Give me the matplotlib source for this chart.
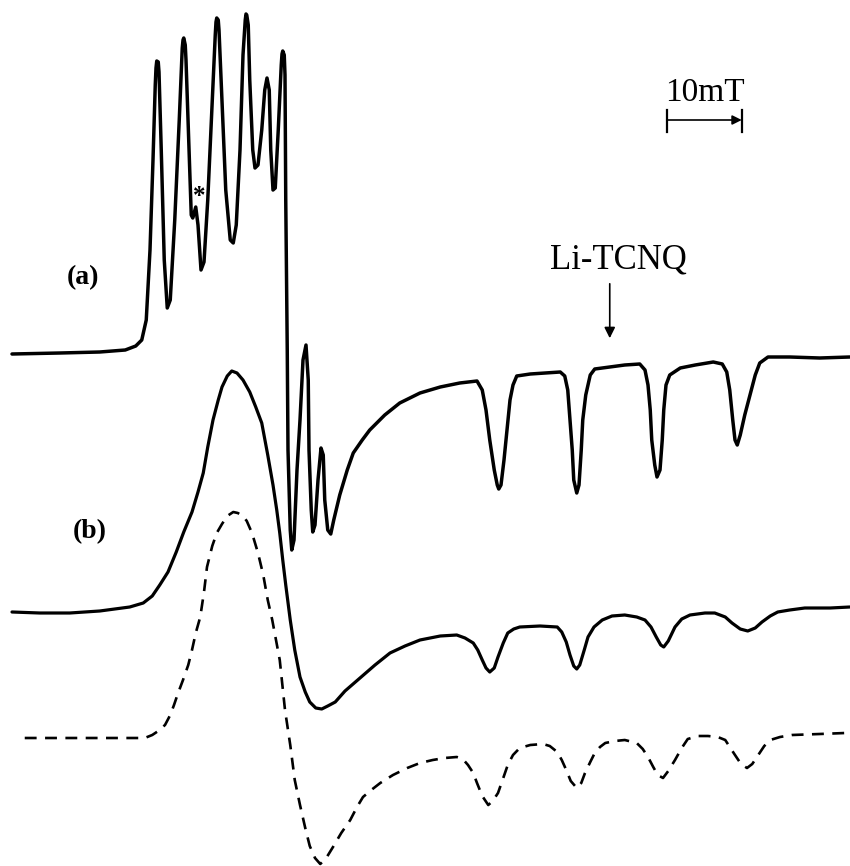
import matplotlib.pyplot as plt

# ESR spectra, magnetic field in mT, signal in arbitrary units

# (a) spectrum
field_a = [1.6, 8.0, 13.3, 16.7, 18.1, 18.9, 19.5, 20.0, 20.4, 20.7, 20.8, 20.9, 21.1, 21.2, 21.5, 21.9,
           22.3, 22.7, 23.3, 23.9, 24.3, 24.4, 24.5, 24.7, 24.8, 25.2, 25.5, 25.7, 26.1, 26.4, 26.8, 27.2,
           27.7, 28.3, 28.7, 28.8, 28.9, 29.1, 29.2, 29.6, 30.1, 30.7, 31.1, 31.5, 32.0, 32.4, 32.7, 32.8,
           32.9, 33.1, 33.3, 33.7, 34.0, 34.4, 34.9, 35.3, 35.6, 35.9, 36.1, 36.4, 36.7, 37.1, 37.5, 37.6,
           37.7, 37.9, 38.0, 38.1, 38.3, 38.4, 38.7, 38.9, 39.2, 39.6, 40.0, 40.4, 40.8, 41.1, 41.2, 41.5,
           41.7, 42.0, 42.4, 42.8, 43.1, 43.3, 43.7, 44.1, 44.5, 45.3, 46.3, 47.1, 48.3, 49.3, 51.3, 53.3,
           56.0, 58.7, 61.3, 63.6, 64.3, 64.8, 65.3, 65.9, 66.3, 66.5, 66.8, 67.2, 67.6, 68.0, 68.4, 68.9,
           70.7, 72.7, 74.7, 75.3, 75.7, 76.0, 76.3, 76.5, 76.9, 77.2, 77.5, 77.7, 78.1, 78.7, 79.3, 81.3,
           83.3, 85.3, 86.0, 86.4, 86.7, 86.9, 87.3, 87.6, 88.0, 88.3, 88.5, 88.8, 89.3, 90.7, 92.7, 95.1,
           96.3, 96.9, 97.3, 97.7, 98.0, 98.3, 98.7, 99.3, 100.0, 100.7, 101.3, 102.4, 105.3, 109.3, 113.3]
signal_a = [0, 1, 2, 4, 8, 14, 34, 104, 194, 269, 286, 293, 292, 282, 204, 94,
            46, 54, 134, 234, 306, 314, 316, 309, 294, 204, 139, 136, 147, 129, 84, 92,
            154, 254, 319, 332, 336, 334, 324, 254, 164, 114, 111, 129, 204, 299, 334, 340,
            339, 329, 274, 204, 186, 189, 224, 264, 276, 264, 204, 164, 166, 224, 289, 300,
            303, 299, 279, 154, 4, -96, -176, -196, -186, -116, -66, -6, 9, -26, -96, -156,
            -178, -171, -126, -94, -101, -146, -176, -180, -166, -141, -116, -99, -86, -76, -61, -49,
            -39, -33, -29, -27, -36, -56, -86, -116, -131, -135, -131, -106, -76, -46, -31, -22,
            -20, -19, -18, -22, -36, -66, -96, -126, -139, -131, -96, -66, -41, -21, -15, -13,
            -11, -10, -16, -31, -56, -86, -111, -123, -116, -86, -56, -31, -21, -14, -11, -8,
            -10, -18, -36, -66, -86, -91, -81, -61, -41, -21, -9, -3, -3, -4, -3]

# (b) spectrum, solid
field_b = [1.6, 5.3, 9.3, 13.3, 17.3, 19.1, 20.3, 21.3, 22.4, 23.5, 24.5, 25.6, 26.4, 27.1, 27.7, 28.4,
           29.1, 29.6, 30.3, 30.9, 31.6, 32.4, 33.3, 34.1, 34.9, 35.7, 36.4, 36.9, 37.3, 37.7, 38.1, 38.7,
           39.3, 40.0, 40.7, 41.3, 42.1, 42.9, 43.7, 44.7, 46.0, 48.0, 50.0, 52.0, 54.0, 56.0, 58.7, 60.9,
           62.0, 63.1, 63.7, 64.3, 64.8, 65.3, 65.9, 66.4, 67.1, 67.7, 68.5, 69.3, 72.0, 74.3, 74.9, 75.5,
           76.0, 76.5, 76.9, 77.3, 77.9, 78.4, 79.2, 80.3, 81.6, 83.3, 84.9, 86.0, 86.8, 87.5, 88.1, 88.5,
           89.1, 90.0, 90.9, 92.0, 94.0, 95.3, 96.7, 97.6, 98.7, 99.7, 100.7, 101.6, 102.7, 103.7, 105.3, 107.3,
           110.7, 113.3]
signal_b = [0, -1, -1, 1, 5, 9, 16, 27, 40, 60, 80, 100, 120, 139, 165, 192,
            212, 225, 236, 241, 239, 232, 220, 205, 189, 157, 127, 102, 79, 52, 27, -8,
            -38, -65, -80, -90, -96, -97, -94, -90, -79, -66, -53, -41, -34, -28, -24, -23,
            -26, -31, -38, -48, -56, -60, -56, -45, -31, -21, -17, -15, -14, -15, -20, -30,
            -43, -54, -57, -53, -38, -25, -15, -8, -4, -3, -5, -8, -15, -25, -33, -35,
            -29, -15, -7, -3, -1, -1, -5, -11, -17, -19, -16, -10, -4, 0, 2, 4,
            4, 5]

# (b) simulation, dashed
field_c = [3.3, 8.0, 13.3, 19.3, 20.3, 21.1, 22.0, 22.7, 23.2, 23.7, 24.4, 25.1, 25.6, 26.1, 26.7, 27.2,
           27.6, 28.3, 28.9, 29.6, 30.3, 31.1, 31.7, 32.4, 32.9, 33.6, 34.4, 35.1, 35.7, 36.3, 36.8, 37.3,
           38.0, 38.7, 39.3, 40.0, 40.7, 41.3, 42.0, 42.7, 43.5, 44.4, 45.5, 46.7, 47.6, 48.4, 49.5, 50.7,
           52.4, 54.3, 56.0, 57.7, 59.3, 60.9, 61.7, 62.4, 63.1, 63.6, 64.3, 65.1, 65.7, 66.4, 67.1, 67.7,
           68.4, 69.3, 70.7, 72.4, 73.3, 74.3, 74.9, 75.5, 76.1, 76.9, 77.5, 78.0, 78.7, 79.3, 80.0, 80.7,
           82.0, 83.3, 84.9, 85.7, 86.4, 87.1, 87.7, 88.4, 89.1, 90.0, 90.9, 91.7, 93.1, 94.4, 95.7, 96.7,
           97.3, 98.0, 98.8, 99.6, 100.3, 101.1, 101.9, 102.7, 104.0, 105.6, 109.3, 112.7]
signal_c = [0, 0, 0, 0, 3, 7, 13, 23, 33, 44, 58, 73, 88, 105, 121, 146,
            171, 192, 205, 214, 222, 226, 225, 222, 217, 205, 185, 163, 138, 118, 98, 78,
            28, -7, -42, -67, -90, -108, -120, -126, -120, -109, -95, -82, -69, -59, -52, -45,
            -37, -30, -25, -22, -20, -19, -21, -27, -35, -45, -58, -67, -63, -55, -40, -27,
            -17, -10, -7, -6, -8, -14, -22, -32, -43, -50, -45, -35, -24, -15, -9, -5,
            -3, -2, -5, -11, -19, -29, -37, -40, -33, -22, -10, -1, 2, 2, 1, -2,
            -9, -17, -26, -30, -26, -17, -8, -2, 1, 3, 4, 5]

# 谱线的竖直位置
base_a = 354
base_b = 612
base_c = 738

fig = plt.figure(figsize=(8.5, 8.66), dpi=100)
ax = fig.add_axes([0, 0, 1, 1])
ax.set_xlim(0, 850 / 7.5)
ax.set_ylim(-866, 0)
ax.axis('off')

ax.plot(field_a, [s - base_a for s in signal_a], color='black', lw=2.5,
        solid_joinstyle='round', solid_capstyle='round')
ax.plot(field_b, [s - base_b for s in signal_b], color='black', lw=2.3,
        solid_joinstyle='round', solid_capstyle='round')
ax.plot(field_c, [s - base_c for s in signal_c], color='black', lw=1.9, dashes=(4.5, 3.2))

serif = 'Liberation Serif'
ax.text(11.0, -278, '(a)', fontsize=20, fontweight='bold', family=serif, ha='center', va='center')
ax.text(12.0, -532, '(b)', fontsize=20, fontweight='bold', family=serif, ha='center', va='center')
ax.text(94.0, -101, '10mT', fontsize=24, family=serif, ha='center', va='baseline')
ax.text(82.5, -268, 'Li-TCNQ', fontsize=25, family=serif, ha='center', va='baseline')
# 杂质峰标记
ax.text(26.6, -196, '*', fontsize=18, fontweight='bold', family=serif, ha='center', va='center')

# Li-TCNQ 的箭头
ax.annotate('', xy=(81.3, -341), xytext=(81.3, -281),
            arrowprops=dict(arrowstyle='-|>', color='black', lw=1.2, mutation_scale=16))

# 10 mT 标尺
ax.annotate('', xy=(98.9, -120), xytext=(88.9, -120),
            arrowprops=dict(arrowstyle='-|>', color='black', lw=1.2, mutation_scale=14,
                            shrinkA=0, shrinkB=0))
ax.plot([88.9, 88.9], [-110, -132], color='black', lw=1.6)
ax.plot([98.9, 98.9], [-110, -132], color='black', lw=1.6)

fig.savefig('out.png', dpi=100)
